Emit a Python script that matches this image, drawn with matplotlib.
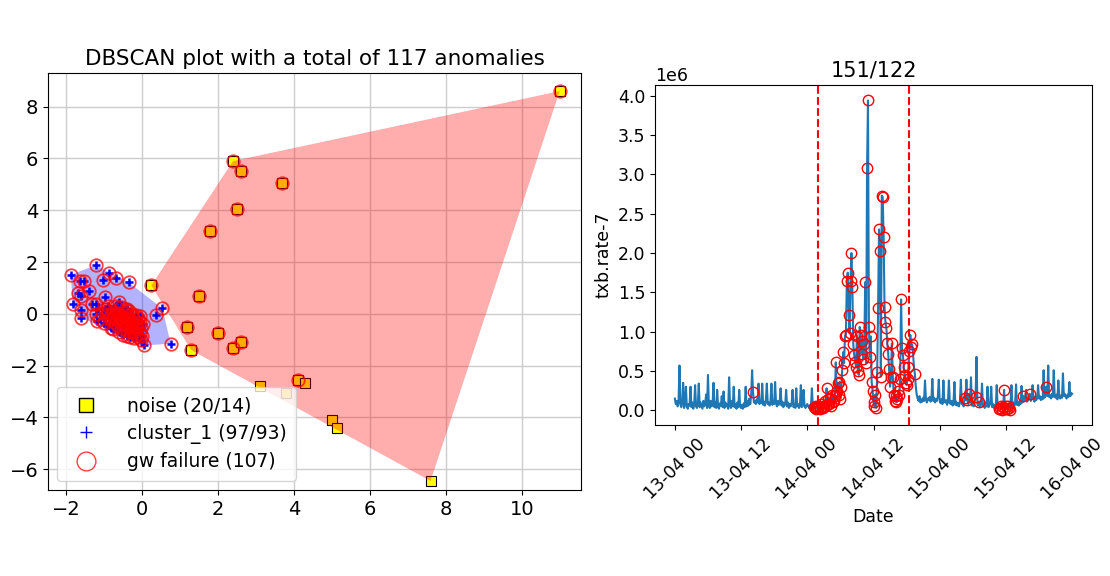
import matplotlib
matplotlib.use("Agg")
import matplotlib.pyplot as plt
import matplotlib.dates as mdates
import numpy as np
import pandas as pd

# ---- left panel data (DBSCAN projection) ----
noise_x = [11.0, 2.4, 2.6, 3.7, 2.5, 1.8, 0.25, 1.5, 1.2, 2.0,
           1.3, 2.4, 2.6, 3.1, 3.8, 4.1, 4.3, 5.0, 5.15, 7.6]
noise_y = [8.6, 5.9, 5.5, 5.05, 4.05, 3.2, 1.1, 0.7, -0.5, -0.75,
           -1.4, -1.3, -1.1, -2.8, -3.05, -2.55, -2.65, -4.1, -4.4, -6.45]
noise_fail = [1, 1, 1, 1, 1, 1, 1, 1, 1, 1,
              1, 1, 1, 0, 0, 1, 0, 0, 0, 0]

cluster_x = [-1.87, -1.21, -0.86, -0.68, -0.35, -1.03, -1.63, -1.52, -1.39, -1.69,
             -1.61, -1.82, -1.61, -1.61, -1.30, -0.97, -1.21, -0.60, -1.17, 0.37,
             0.54, 0.76, 0.06, -0.16, -0.38,
             -1.05, -0.95, -0.90, -0.85, -0.80, -0.78, -0.75, -0.72, -0.70, -0.68,
             -0.65, -0.62, -0.60, -0.58, -0.55, -0.52, -0.50, -0.48, -0.46, -0.44,
             -0.42, -0.40, -0.38, -0.36, -0.34, -0.32, -0.30, -0.28, -0.26, -0.24,
             -0.22, -0.20, -0.18, -0.16, -0.14, -0.12, -0.10, -0.08, -0.06, -0.04,
             -0.02, 0.00, 0.02, -1.10, -1.00, -0.92, -0.88, -0.82, -0.75, -0.68,
             -0.60, -0.55, -0.50, -0.45, -0.40, -0.35, -0.30, -0.25, -0.20, -0.15,
             -0.10, -0.05, -0.02, -1.15, -1.20, -0.98, -0.65, -0.50, -0.35, -0.20,
             -0.58, -0.42]
cluster_y = [1.51, 1.88, 1.59, 1.38, 1.22, 1.29, 1.25, 1.25, 0.90, 0.81,
             0.70, 0.38, 0.16, -0.14, 0.38, 0.64, 0.38, 0.47, -0.27, -0.05,
             0.21, -1.15, -1.22, -0.34, 0.18,
             0.05, -0.05, 0.10, -0.15, 0.00, -0.25, 0.12, -0.10, -0.35, 0.05,
             -0.20, -0.45, 0.00, -0.30, -0.12, -0.50, -0.25, 0.05, -0.40, -0.15,
             -0.60, -0.30, -0.05, -0.45, -0.20, -0.70, -0.35, -0.55, -0.10, -0.40,
             -0.65, -0.25, -0.50, -0.80, -0.35, -0.60, -0.15, -0.45, -0.75, -0.30,
             -0.55, -0.85, -0.40, -0.20, -0.35, -0.45, 0.30, -0.55, -0.60, 0.30,
             -0.70, 0.25, -0.80, 0.20, -0.85, 0.10, -0.90, 0.00, -0.95, -0.05,
             -0.90, -0.10, -1.00, 0.20, 0.00, 0.20, -0.05, -0.60, -0.25, -0.70,
             -0.15, -0.35]
cluster_no_fail = [40, 55, 70, 88]

# ---- right panel data (txb.rate-7, 10 min steps, unit 1e6) ----
day13 = [
    [0.15, 0.08, 0.12, 0.05, 0.10, 0.57],
    [0.08, 0.04, 0.10, 0.35, 0.03, 0.08],
    [0.30, 0.05, 0.02, 0.08, 0.06, 0.30],
    [0.04, 0.10, 0.02, 0.07, 0.32, 0.05],
    [0.03, 0.08, 0.34, 0.04, 0.10, 0.06],
    [0.02, 0.12, 0.05, 0.09, 0.20, 0.03],
    [0.45, 0.06, 0.03, 0.12, 0.05, 0.08],
    [0.35, 0.04, 0.10, 0.03, 0.26, 0.05],
    [0.02, 0.09, 0.06, 0.18, 0.04, 0.24],
    [0.03, 0.10, 0.05, 0.08, 0.02, 0.42],
    [0.06, 0.03, 0.12, 0.05, 0.30, 0.04],
    [0.08, 0.02, 0.10, 0.04, 0.26, 0.05],
    [0.03, 0.07, 0.02, 0.09, 0.04, 0.30],
    [0.05, 0.12, 0.06, 0.15, 0.08, 0.20],
    [0.51, 0.23, 0.10, 0.12, 0.08, 0.14],
    [0.10, 0.34, 0.08, 0.12, 0.09, 0.34],
    [0.07, 0.11, 0.06, 0.13, 0.34, 0.08],
    [0.10, 0.06, 0.12, 0.34, 0.07, 0.11],
    [0.08, 0.36, 0.09, 0.05, 0.12, 0.07],
    [0.10, 0.28, 0.06, 0.11, 0.04, 0.09],
    [0.07, 0.26, 0.05, 0.10, 0.03, 0.08],
    [0.05, 0.09, 0.26, 0.04, 0.07, 0.03],
    [0.28, 0.05, 0.08, 0.03, 0.06, 0.32],
    [0.04, 0.07, 0.26, 0.05, 0.03, 0.06],
]
day14 = [
    [0.08, 0.05, 0.03, 0.06, 0.04, 0.28],
    [0.06, 0.04, 0.03, 0.05, 0.02, 0.04],
    [0.03, 0.05, 0.02, 0.08, 0.04, 0.03],
    [0.06, 0.12, 0.05, 0.28, 0.08, 0.15],
    [0.08, 0.15, 0.05, 0.20, 0.10, 0.12],
    [0.18, 0.61, 0.25, 0.35, 0.20, 0.36],
    [0.15, 0.30, 0.51, 0.74, 0.60, 0.95],
    [0.96, 1.64, 1.75, 1.21, 0.98, 1.64],
    [2.00, 1.57, 0.84, 0.70, 0.62, 0.55],
    [0.95, 0.50, 0.45, 1.06, 0.96, 0.72],
    [0.88, 0.65, 0.84, 1.63, 0.60, 3.08],
    [3.94, 1.06, 0.68, 0.94, 0.36, 0.25],
    [0.10, 0.05, 0.20, 0.03, 0.49, 1.30],
    [2.30, 2.02, 0.43, 2.73, 2.71, 2.21],
    [1.31, 1.12, 1.05, 0.85, 0.72, 0.52],
    [0.30, 0.42, 0.85, 0.43, 0.20, 0.12],
    [0.18, 0.10, 0.15, 0.25, 0.20, 0.40],
    [1.41, 0.79, 0.70, 0.55, 0.45, 0.35],
    [0.32, 0.40, 0.55, 0.75, 0.96, 0.80],
    [0.84, 0.72, 0.55, 0.46, 0.30, 0.20],
    [0.15, 0.12, 0.18, 0.10, 0.14, 0.11],
    [0.16, 0.12, 0.38, 0.14, 0.10, 0.15],
    [0.13, 0.17, 0.11, 0.15, 0.40, 0.12],
    [0.16, 0.10, 0.14, 0.12, 0.18, 0.39],
]
day15 = [
    [0.12, 0.09, 0.14, 0.08, 0.38, 0.11],
    [0.10, 0.13, 0.07, 0.11, 0.38, 0.09],
    [0.08, 0.12, 0.06, 0.10, 0.36, 0.07],
    [0.11, 0.06, 0.09, 0.05, 0.12, 0.39],
    [0.08, 0.10, 0.05, 0.16, 0.13, 0.39],
    [0.13, 0.08, 0.21, 0.10, 0.42, 0.06],
    [0.09, 0.05, 0.12, 0.17, 0.68, 0.08],
    [0.06, 0.11, 0.04, 0.09, 0.34, 0.05],
    [0.07, 0.03, 0.10, 0.05, 0.30, 0.04],
    [0.06, 0.09, 0.30, 0.04, 0.08, 0.03],
    [0.07, 0.05, 0.32, 0.04, 0.06, 0.02],
    [0.03, 0.06, 0.01, 0.04, 0.26, 0.02],
    [0.05, 0.02, 0.06, 0.03, 0.01, 0.08],
    [0.32, 0.06, 0.10, 0.05, 0.09, 0.33],
    [0.07, 0.11, 0.06, 0.12, 0.08, 0.31],
    [0.10, 0.18, 0.12, 0.15, 0.26, 0.11],
    [0.13, 0.16, 0.21, 0.12, 0.15, 0.32],
    [0.14, 0.11, 0.17, 0.13, 0.16, 0.32],
    [0.15, 0.18, 0.13, 0.17, 0.14, 0.51],
    [0.16, 0.20, 0.30, 0.18, 0.57, 0.17],
    [0.19, 0.15, 0.21, 0.17, 0.51, 0.18],
    [0.16, 0.20, 0.14, 0.38, 0.18, 0.15],
    [0.19, 0.16, 0.47, 0.18, 0.21, 0.17],
    [0.15, 0.20, 0.17, 0.36, 0.18, 0.22],
]
last_value = 0.21
series_start = "2022-04-13 00:00"

anomaly_spans = [("2022-04-14 01:10", "2022-04-14 19:00"),
                 ("2022-04-15 10:50", "2022-04-15 12:40")]
anomaly_times = ["2022-04-13 14:10", "2022-04-14 19:30",
                 "2022-04-15 04:30", "2022-04-15 05:00", "2022-04-15 05:20",
                 "2022-04-15 06:30", "2022-04-15 07:10", "2022-04-15 15:10",
                 "2022-04-15 16:20", "2022-04-15 19:20"]
window_start = "2022-04-14 01:55"
window_end = "2022-04-14 18:25"
right_title = "151/122"


def convex_hull(xs, ys):
    pts = sorted(set(zip(xs, ys)))

    def cross(o, a, b):
        return (a[0] - o[0]) * (b[1] - o[1]) - (a[1] - o[1]) * (b[0] - o[0])

    lower = []
    for p in pts:
        while len(lower) >= 2 and cross(lower[-2], lower[-1], p) <= 0:
            lower.pop()
        lower.append(p)
    upper = []
    for p in reversed(pts):
        while len(upper) >= 2 and cross(upper[-2], upper[-1], p) <= 0:
            upper.pop()
        upper.append(p)
    return np.array(lower[:-1] + upper[:-1])


fig = plt.figure(figsize=(11.1, 5.76), dpi=100)
ax1 = fig.add_axes([48 / 1110, 1 - 490 / 576, 533 / 1110, 417 / 576])
ax2 = fig.add_axes([655 / 1110, 1 - 425 / 576, 437 / 1110, 340 / 576])

# ---- left: DBSCAN ----
nx, ny = np.array(noise_x), np.array(noise_y)
cx, cy = np.array(cluster_x), np.array(cluster_y)
n_fail = np.array(noise_fail, dtype=bool)
c_fail = np.ones(len(cx), dtype=bool)
c_fail[cluster_no_fail] = False
fail_x = np.concatenate([nx[n_fail], cx[c_fail]])
fail_y = np.concatenate([ny[n_fail], cy[c_fail]])

ax1.grid(True, color="#cccccc", linewidth=1.0, zorder=0)
ax1.set_axisbelow(True)
ax1.plot(nx, ny, "s", color="yellow", mec="black", mew=0.8, ms=6.5,
         label=f"noise ({len(nx)}/{n_fail.sum()})", zorder=2)
ax1.plot(cx, cy, "+", color="blue", ms=6, mew=1.8,
         label=f"cluster_1 ({len(cx)}/{c_fail.sum()})", zorder=2)
hull_n = convex_hull(noise_x, noise_y)
ax1.fill(hull_n[:, 0], hull_n[:, 1], color="red", alpha=0.32, lw=0, zorder=3)
hull_c = convex_hull(cluster_x, cluster_y)
ax1.fill(hull_c[:, 0], hull_c[:, 1], color="blue", alpha=0.3, lw=0, zorder=3)
ax1.plot(fail_x, fail_y, "o", mfc="none", mec="red", mew=1.3, ms=9, alpha=0.75,
         label=f"gw failure ({len(fail_x)})", zorder=4)
ax1.set_xlim(-2.47, 11.56)
ax1.set_ylim(-6.8, 9.3)
ax1.set_xticks([-2, 0, 2, 4, 6, 8, 10])
ax1.set_yticks([-6, -4, -2, 0, 2, 4, 6, 8])
ax1.tick_params(labelsize=14)
ax1.set_title(f"DBSCAN plot with a total of {len(nx) + len(cx)} anomalies", fontsize=15.5)
leg = ax1.legend(loc="lower left", fontsize=13.5, markerscale=1.5, handletextpad=1.2,
                 borderpad=0.5, labelspacing=0.45)
for h in leg.legend_handles:
    h.set_markeredgewidth(1.0)

# ---- right: time series ----
values = np.concatenate([np.concatenate(day13), np.concatenate(day14),
                         np.concatenate(day15), [last_value]]) * 1e6
times = pd.date_range(series_start, periods=len(values), freq="10min")
ts = pd.Series(values, index=times)
mask = pd.Series(False, index=times)
for a, b in anomaly_spans:
    mask[a:b] = True
mask[pd.to_datetime(anomaly_times)] = True

ax2.plot(ts.index, ts.values, color="tab:blue", lw=1.5, zorder=2)
ax2.plot(ts.index[mask.values], ts.values[mask.values], "o", mfc="none", mec="red",
         mew=1.0, ms=7.5, zorder=3)
ax2.axvline(pd.Timestamp(window_start), color="red", ls="--", lw=1.5)
ax2.axvline(pd.Timestamp(window_end), color="red", ls="--", lw=1.5)
ax2.xaxis.set_major_locator(mdates.HourLocator(byhour=[0, 12]))
ax2.xaxis.set_major_formatter(mdates.DateFormatter("%d-%m %H"))
ax2.set_yticks(np.arange(0, 4.01e6, 0.5e6))
ax2.tick_params(labelsize=12.5)
ax2.yaxis.get_offset_text().set_fontsize(12.5)
plt.setp(ax2.get_xticklabels(), rotation=45)
ax2.set_title(right_title, fontsize=15)
ax2.set_xlabel("Date", fontsize=12.5)
ax2.set_ylabel("txb.rate-7", fontsize=12.5)

fig.savefig("out.png", dpi=100)
